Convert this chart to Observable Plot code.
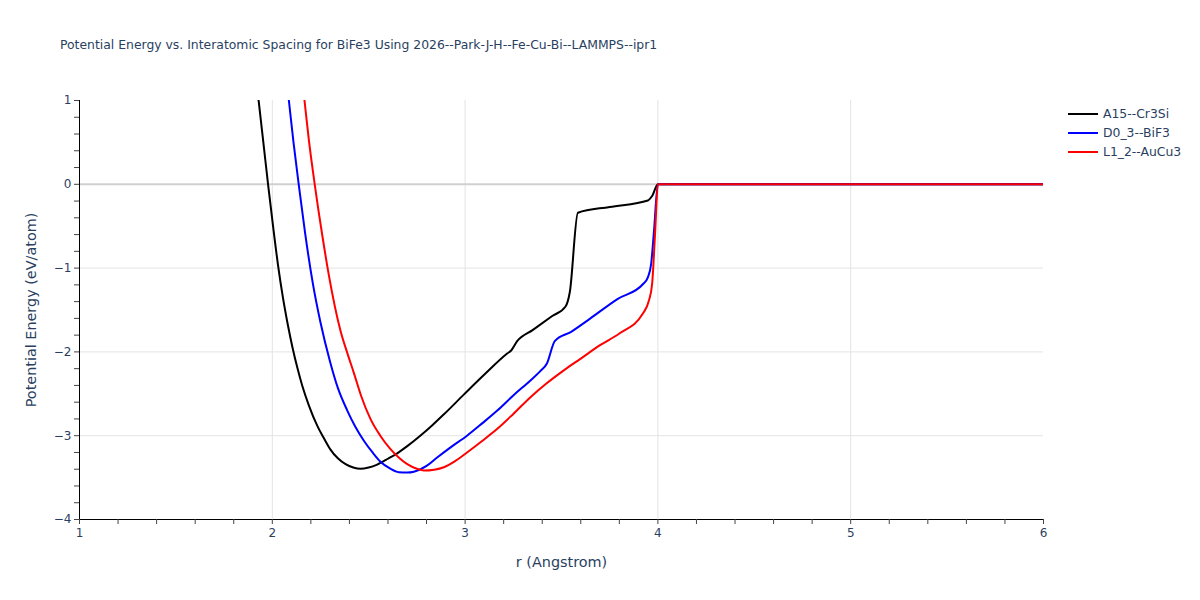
<!DOCTYPE html>
<html>
<head>
<meta charset="utf-8">
<script src="https://cdn.jsdelivr.net/npm/d3@7"></script>
<script src="https://cdn.jsdelivr.net/npm/@observablehq/plot@0.6"></script>
<style>
  body { margin: 0; background: #fff; }
  #wrap { position: relative; width: 1200px; height: 600px; font-family: "DejaVu Sans", Verdana, sans-serif; }
  #title { position: absolute; left: 60px; top: 37px; font-size: 12.4px; color: #2a3f5f; white-space: nowrap; }
  #legend { position: absolute; left: 1068px; top: 104px; font-size: 12.4px; color: #2a3f5f; }
  .item { display: flex; align-items: center; height: 19px; }
  .swatch { width: 30px; height: 2px; margin-right: 5px; }
  svg { position: absolute; left: 0; top: 0; }
</style>
</head>
<body>
<div id="wrap">
  <div id="title"></div>
  <div id="legend"></div>
</div>
<script>
const title = "Potential Energy vs. Interatomic Spacing for BiFe3 Using 2026--Park-J-H--Fe-Cu-Bi--LAMMPS--ipr1";
const seriesNames = ["A15--Cr3Si", "D0_3--BiF3", "L1_2--AuCu3"];
const seriesColors = ["#000000", "#0000ff", "#ff0000"];

const a15_r = [1.90, 1.93, 1.955, 1.98, 2.005, 2.03, 2.055, 2.08, 2.105, 2.13, 2.155, 2.19, 2.233, 2.27, 2.30, 2.34, 2.38, 2.42, 2.457, 2.50, 2.544, 2.60, 2.648, 2.70, 2.769, 2.83, 2.89, 2.993, 3.10, 3.218, 3.24, 3.27, 3.35, 3.45, 3.521, 3.543, 3.585, 3.75, 3.948, 3.97, 4.00, 4.2, 4.6, 5.0, 5.5, 6.0];
const a15_e = [1.60, 0.98, 0.47, -0.04, -0.52, -0.97, -1.35, -1.67, -1.95, -2.19, -2.40, -2.64, -2.88, -3.04, -3.16, -3.27, -3.34, -3.38, -3.395, -3.38, -3.345, -3.275, -3.21, -3.125, -2.998, -2.875, -2.745, -2.51, -2.27, -2.02, -1.98, -1.872, -1.74, -1.575, -1.458, -1.288, -0.34, -0.27, -0.193, -0.14, 0, 0, 0, 0, 0, 0];

const d03_r = [2.06, 2.086, 2.11, 2.137, 2.17, 2.21, 2.25, 2.30, 2.34, 2.389, 2.43, 2.475, 2.52, 2.561, 2.61, 2.656, 2.70, 2.734, 2.80, 2.855, 2.93, 3.01, 3.09, 3.167, 3.25, 3.339, 3.39, 3.425, 3.465, 3.55, 3.65, 3.79, 3.923, 3.948, 3.965, 3.98, 4.00, 4.2, 4.6, 5.0, 5.5, 6.0];
const d03_e = [1.5, 1.0, 0.5, 0.0, -0.58, -1.18, -1.65, -2.12, -2.43, -2.70, -2.89, -3.06, -3.20, -3.31, -3.39, -3.435, -3.44, -3.43, -3.36, -3.26, -3.13, -3.0, -2.85, -2.70, -2.52, -2.34, -2.23, -2.135, -1.872, -1.76, -1.60, -1.37, -1.19, -1.11, -0.95, -0.55, 0, 0, 0, 0, 0, 0];

const l12_r = [2.14, 2.167, 2.19, 2.22, 2.26, 2.293, 2.354, 2.39, 2.423, 2.46, 2.509, 2.56, 2.613, 2.66, 2.70, 2.75, 2.786, 2.84, 2.89, 2.95, 3.01, 3.09, 3.167, 3.25, 3.339, 3.42, 3.512, 3.60, 3.70, 3.80, 3.923, 3.953, 3.97, 3.985, 4.00, 4.2, 4.6, 5.0, 5.5, 6.0];
const l12_e = [1.5, 1.0, 0.52, 0.0, -0.62, -1.08, -1.75, -2.02, -2.25, -2.52, -2.80, -3.0, -3.16, -3.27, -3.34, -3.395, -3.415, -3.405, -3.376, -3.30, -3.20, -3.06, -2.918, -2.74, -2.54, -2.38, -2.22, -2.08, -1.92, -1.78, -1.54, -1.39, -1.19, -0.6, 0, 0, 0, 0, 0, 0];

const xTicks = d3.range(0, 26).map(i => 1 + i * 0.2);
const yTicks = d3.range(0, 26).map(i => -4 + i * 0.2);

const rows = [];
[[a15_r, a15_e], [d03_r, d03_e], [l12_r, l12_e]].forEach(([rs, es], k) => {
  rs.forEach((r, i) => rows.push({series: seriesNames[k], r, e: es[i]}));
});

const intFmt = d => Math.abs(d - Math.round(d)) < 1e-6 ? d3.format("d")(Math.round(d)) : "";

const chart = Plot.plot({
  width: 1200,
  height: 600,
  marginLeft: 79,
  marginRight: 157,
  marginTop: 100,
  marginBottom: 81,
  style: {fontFamily: "'DejaVu Sans', Verdana, sans-serif", fontSize: "12px", background: "transparent"},
  x: {domain: [1, 6]},
  y: {domain: [-4, 1]},
  color: {domain: seriesNames, range: seriesColors},
  marks: [
    Plot.gridX([2, 3, 4, 5], {stroke: "#e3e3e3", strokeOpacity: 1, strokeWidth: 1}),
    Plot.gridY([-3, -2, -1], {stroke: "#e3e3e3", strokeOpacity: 1, strokeWidth: 1}),
    Plot.ruleY([0], {stroke: "#d0d0d0", strokeWidth: 2}),
    Plot.line(rows, {x: "r", y: "e", z: "series", stroke: "series", strokeWidth: 2, curve: "monotone-x", clip: true}),
    Plot.ruleY([-4], {stroke: "#000", strokeWidth: 1}),
    Plot.ruleX([1], {stroke: "#000", strokeWidth: 1}),
    Plot.axisX({ticks: xTicks, tickFormat: intFmt, tickSize: 5, tickPadding: 4, stroke: "#444", fill: "#2a3f5f", fontSize: 12,
      label: "r (Angstrom)", labelAnchor: "center", labelArrow: "none", labelOffset: 47}),
    Plot.axisY({ticks: yTicks, tickFormat: intFmt, tickSize: 5, tickPadding: 3, stroke: "#444", fill: "#2a3f5f", fontSize: 12,
      label: "Potential Energy (eV/atom)", labelAnchor: "center", labelArrow: "none", labelOffset: 54})
  ]
});

chart.querySelectorAll("g[aria-label='x-axis label'] text, g[aria-label='y-axis label'] text").forEach(t => {
  t.setAttribute("font-size", "14.4");
  t.style.fontSize = "14.4px";
  t.setAttribute("fill", "#2a3f5f");
});

const wrap = document.getElementById("wrap");
wrap.appendChild(chart);
document.getElementById("title").textContent = title;
const legend = document.getElementById("legend");
seriesNames.forEach((n, i) => {
  const it = document.createElement("div");
  it.className = "item";
  const sw = document.createElement("div");
  sw.className = "swatch";
  sw.style.background = seriesColors[i];
  const tx = document.createElement("span");
  tx.textContent = n;
  it.appendChild(sw);
  it.appendChild(tx);
  legend.appendChild(it);
});
</script>
</body>
</html>
